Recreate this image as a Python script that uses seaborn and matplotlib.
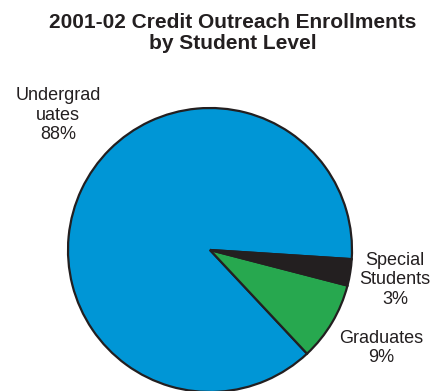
import matplotlib
matplotlib.use("Agg")
import matplotlib.pyplot as plt
import seaborn as sns

# data
levels = ["Undergrad\nuates", "Graduates", "Special\nStudents"]
shares = [88, 9, 3]
colors = ["#0096D6", "#27A84F", "#231F20"]

sns.set_theme(style="white")
plt.rcParams["font.family"] = ["Liberation Sans", "DejaVu Sans"]

W, H = 433, 391
fig = plt.figure(figsize=(W / 100, H / 100), dpi=100)

# pie axes: centre (210, 250) px, radius 142 px
cx, cy, r = 210, 250, 142
ax = fig.add_axes([(cx - r) / W, (H - cy - r) / H, 2 * r / W, 2 * r / H])
wedges, _ = ax.pie(
    shares,
    colors=colors,
    startangle=-3.7,
    counterclock=True,
    radius=1,
    wedgeprops={"edgecolor": "#231F20", "linewidth": 1.6},
)
ax.set_xlim(-1, 1)
ax.set_ylim(-1, 1)
ax.set_aspect("equal")
ax.axis("off")
for w in wedges:
    w.set_clip_on(False)

fig.text(233 / W, 1 - 33 / H, "2001-02 Credit Outreach Enrollments\nby Student Level",
         ha="center", va="center", fontsize=15, fontweight="bold",
         color="#231F20", linespacing=1.1)

# slice labels (pixel positions of the label centres)
label_pos = [(58, 115), (381, 348), (395, 280)]
for name, val, (px, py) in zip(levels, shares, label_pos):
    fig.text(px / W, 1 - py / H, f"{name}\n{val}%", ha="center", va="center",
             fontsize=13, color="#231F20", linespacing=1.2)

fig.savefig("out.png", dpi=100)
